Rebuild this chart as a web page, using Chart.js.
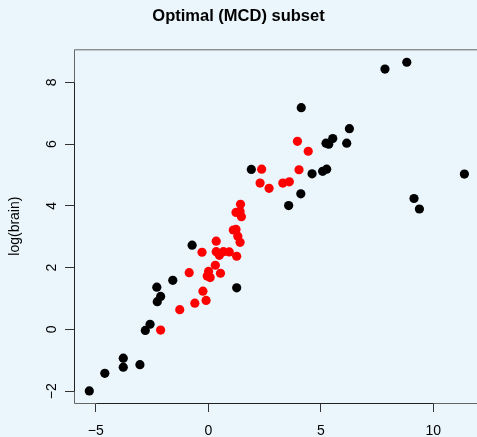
<!DOCTYPE html>
<html>
<head>
<meta charset="utf-8">
<script src="https://cdn.jsdelivr.net/npm/chart.js@4/dist/chart.umd.min.js"></script>
<style>
  html, body { margin: 0; padding: 0; background: #ebf5fc; overflow: hidden; }
  #wrap { width: 477px; height: 437px; }
</style>
</head>
<body>
<div id="wrap"><canvas id="plot" width="477" height="437"></canvas></div>
<script>
'use strict';

// points outside the MCD subset (black)
let outX = [-5.29, -4.60, -3.78, -3.78, -3.04, -2.80, -2.59, -2.27, -2.12, -2.29,
            -1.58, -0.72, 1.26, 1.91, 7.85, 8.82, 4.13, 6.27, 5.53, 5.23,
            5.35, 6.15, 4.61, 5.08, 5.26, 4.11, 3.57, 11.38, 9.14, 9.38];
let outY = [-1.99, -1.42, -0.93, -1.22, -1.14, -0.03, 0.17, 0.90, 1.07, 1.37,
            1.59, 2.73, 1.35, 5.18, 8.43, 8.65, 7.18, 6.50, 6.18, 6.03,
            6.00, 6.03, 5.04, 5.12, 5.19, 4.39, 4.01, 5.03, 4.24, 3.90];

// points in the optimal (MCD) subset (red)
let inX = [-2.12, -1.27, -0.60, -0.10, -0.24, -0.85, -0.05, 0.08, 0.01, 0.54,
           0.31, -0.28, 0.35, 0.35, 0.49, 0.67, 0.93, 1.26, 1.11, 1.23,
           1.31, 1.41, 1.43, 1.23, 1.41, 1.47, 2.37, 2.30, 2.70, 3.31,
           3.60, 3.96, 4.44, 4.03];
let inY = [-0.02, 0.64, 0.85, 0.94, 1.24, 1.84, 1.73, 1.68, 1.88, 1.82,
           2.08, 2.50, 2.52, 2.86, 2.40, 2.52, 2.51, 2.37, 3.22, 3.24,
           3.02, 2.82, 4.05, 3.79, 3.82, 3.65, 5.19, 4.74, 4.57, 4.74,
           4.78, 6.09, 5.77, 5.17];

let xTicks = [-5, 0, 5, 10];
let yTicks = [-2, 0, 2, 4, 6, 8];

let toPoints = (xs, ys) => xs.map((x, i) => ({x: x, y: ys[i]}));
let minus = (v) => String(v).replace('-', '\u2212');

// R style box (top, left, bottom) plus axis lines spanning the ticks
let rBox = {
	id: 'rBox',
	afterDraw(chart) {
		let ctx = chart.ctx;
		let a = chart.chartArea;
		let xs = chart.scales.x, ys = chart.scales.y;
		ctx.save();
		ctx.lineWidth = 1;
		ctx.strokeStyle = '#666';
		ctx.beginPath();
		ctx.moveTo(a.right + 5, a.top + 0.5);
		ctx.lineTo(a.left + 0.5, a.top + 0.5);
		ctx.lineTo(a.left + 0.5, a.bottom + 0.5);
		ctx.lineTo(a.right + 5, a.bottom + 0.5);
		ctx.stroke();
		ctx.strokeStyle = '#222';
		ctx.beginPath();
		ctx.moveTo(Math.round(xs.getPixelForValue(xTicks[0])) + 0.5, a.bottom + 0.5);
		ctx.lineTo(Math.round(xs.getPixelForValue(xTicks[xTicks.length - 1])) + 0.5, a.bottom + 0.5);
		ctx.moveTo(a.left + 0.5, Math.round(ys.getPixelForValue(yTicks[0])) + 0.5);
		ctx.lineTo(a.left + 0.5, Math.round(ys.getPixelForValue(yTicks[yTicks.length - 1])) + 0.5);
		ctx.stroke();
		ctx.restore();
	}
};

Chart.defaults.font.family = '"Liberation Sans", Arial, Helvetica, sans-serif';
Chart.defaults.color = '#000';

let container = document.getElementById('plot');
let myScatter = new Chart(container, {
	type: 'scatter',
	data: {
		datasets: [
			{
				data: toPoints(outX, outY),
				backgroundColor: '#000000',
				pointRadius: 4.6,
				pointBorderWidth: 0
			},
			{
				data: toPoints(inX, inY),
				backgroundColor: '#ff0000',
				pointRadius: 4.6,
				pointBorderWidth: 0
			}
		]
	},
	options: {
		responsive: false,
		animation: false,
		events: [],
		layout: { padding: 0, autoPadding: false },
		plugins: {
			legend: { display: false },
			tooltip: { enabled: false },
			title: {
				display: true,
				text: 'Optimal (MCD) subset',
				font: { size: 16.5, weight: 'bold' },
				color: '#000',
				padding: { top: 6.2, bottom: 23.3 }
			}
		},
		scales: {
			x: {
				type: 'linear',
				min: -5.97,
				max: 11.94,
				afterFit: (scale) => { scale.height = 34; },
				afterBuildTicks: (scale) => { scale.ticks = xTicks.map(v => ({value: v})); },
				border: { display: false },
				grid: {
					drawOnChartArea: false,
					drawTicks: true,
					tickLength: 9,
					tickColor: '#333'
				},
				ticks: {
					font: { size: 14 },
					color: '#000',
					padding: 11,
					maxRotation: 0,
					callback: minus
				}
			},
			y: {
				type: 'linear',
				min: -2.38,
				max: 9.07,
				afterFit: (scale) => { scale.width = 74; },
				afterBuildTicks: (scale) => { scale.ticks = yTicks.map(v => ({value: v})); },
				border: { display: false },
				grid: {
					drawOnChartArea: false,
					drawTicks: true,
					tickLength: 9,
					tickColor: '#333'
				},
				ticks: {
					font: { size: 14 },
					color: '#000',
					padding: 5,
					minRotation: 90,
					maxRotation: 90,
					crossAlign: 'center',
					callback: minus
				},
				title: {
					display: true,
					text: 'log(brain)',
					font: { size: 14 },
					color: '#000',
					padding: { top: 7, bottom: 0 }
				}
			}
		}
	},
	plugins: [rBox]
});
</script>
</body>
</html>
